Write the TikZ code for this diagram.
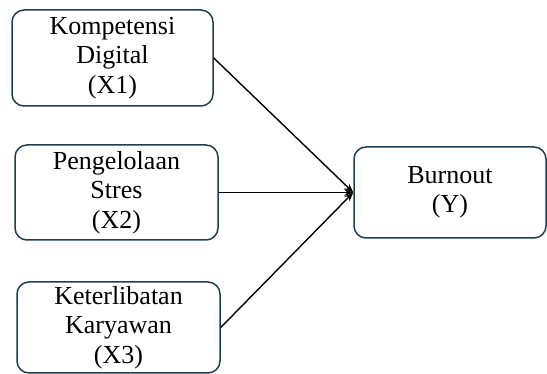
\documentclass[tikz,border=0pt]{standalone}
\usepackage{fontspec}
\setmainfont{Liberation Serif}
\usetikzlibrary{arrows.meta}
\definecolor{boxedge}{HTML}{1F3F50}
\begin{document}
\begin{tikzpicture}[x=1pt,y=-1pt,
  box/.style={draw=boxedge, line width=1.5pt, rounded corners=12pt, align=center,
    font=\fontsize{26}{29.5}\selectfont, inner sep=0pt},
  link/.style={draw=black, line width=1.4pt, -{Stealth[length=9pt,width=7pt]}}]
\useasboundingbox (0,0) rectangle (547,374);
\node[box, minimum width=201pt, minimum height=96pt] (x1) at (112.5,58) {\raisebox{-4pt}{\begin{tabular}{@{}c@{}}Kompetensi\\Digital\\(X1)\end{tabular}}};
\node[box, minimum width=203pt, minimum height=95pt] (x2) at (116.5,192.5) {Pengelolaan\\Stres\\(X2)};
\node[box, minimum width=203pt, minimum height=91pt] (x3) at (118.5,327.5) {Keterlibatan\\Karyawan\\(X3)};
\node[box, minimum width=192pt, minimum height=91pt] (y) at (450,192.5) {Burnout\\(Y)};
\draw[link] (x1.east) -- (y.west);
\draw[link] (x2.east) -- (y.west);
\draw[link] (x3.east) -- (y.west);
\end{tikzpicture}
\end{document}
